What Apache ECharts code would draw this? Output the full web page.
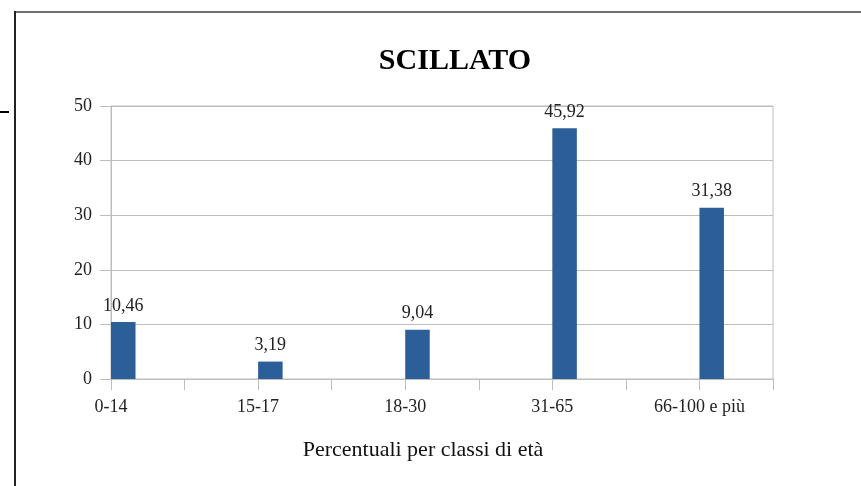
<!DOCTYPE html>
<html>
<head>
<meta charset="utf-8">
<script src="https://cdn.jsdelivr.net/npm/echarts@6/dist/echarts.min.js"></script>
<style>
html,body{margin:0;padding:0;background:#fff;}
#chart{width:861px;height:486px;}
</style>
</head>
<body>
<div id="chart"></div>
<script>
const titleText = 'SCILLATO';
const axisName = 'Percentuali per classi di età';
const categories = ['0-14', '15-17', '18-30', '31-65', '66-100 e più'];
const values = [10.46, 3.19, 9.04, 45.92, 31.38];
const yTicks = [0, 10, 20, 30, 40, 50];

// Excel-style layout: each category occupies a slot of 6 narrow bands, bar in the first band
const SLOT = 6;
const nBands = categories.length * SLOT - 3;
const xData = [];
const seriesData = [];
for (let i = 0; i < nBands; i++) {
  if (i % SLOT === 0) {
    xData.push(categories[i / SLOT]);
    seriesData.push(values[i / SLOT]);
  } else {
    xData.push('');
    seriesData.push('-');
  }
}

const FONT = 'Liberation Serif';
const chart = echarts.init(document.getElementById('chart'), null, {renderer: 'canvas'});
chart.setOption({
  animation: false,
  backgroundColor: '#ffffff',
  title: {
    text: titleText,
    left: 450,
    textAlign: 'center',
    top: 41,
    textStyle: {fontFamily: FONT, fontWeight: 'bold', fontSize: 30, color: '#000'}
  },
  grid: {
    left: 111, right: 88, top: 106, bottom: 107,
    show: true, borderColor: '#BDBDBD', borderWidth: 1, backgroundColor: 'transparent'
  },
  xAxis: {
    type: 'category',
    data: xData,
    boundaryGap: true,
    axisLine: {show: true, lineStyle: {color: '#BDBDBD', width: 1}},
    axisTick: {show: true, length: 11, interval: function (idx) { return idx % 3 === 0; }, lineStyle: {color: '#BDBDBD'}},
    axisLabel: {interval: 0, margin: 19, fontFamily: FONT, fontSize: 18, color: '#222', padding: [0, 24.5, 0, 0]},
    splitLine: {show: false}
  },
  yAxis: {
    type: 'value',
    min: yTicks[0],
    max: yTicks[yTicks.length - 1],
    interval: yTicks[1] - yTicks[0],
    axisLine: {show: true, lineStyle: {color: '#BDBDBD', width: 1}},
    axisTick: {show: true, length: 11, lineStyle: {color: '#BDBDBD'}},
    axisLabel: {margin: 19, fontFamily: FONT, fontSize: 18, color: '#222'},
    splitLine: {show: true, lineStyle: {color: '#BDBDBD', width: 1}}
  },
  series: [{
    type: 'bar',
    data: seriesData,
    barWidth: '100%',
    barCategoryGap: '0%',
    itemStyle: {color: '#2C5F98'},
    label: {
      show: true,
      position: 'top',
      distance: 7,
      fontFamily: FONT,
      fontSize: 18,
      color: '#222',
      formatter: function (p) { return Number(p.value).toFixed(2).replace('.', ','); }
    }
  }],
  graphic: [
    {type: 'line', shape: {x1: 15, y1: 12, x2: 861, y2: 12}, style: {stroke: '#6E6E6E', lineWidth: 2}},
    {type: 'line', shape: {x1: 15, y1: 11, x2: 15, y2: 486}, style: {stroke: '#222', lineWidth: 2}},
    {type: 'line', shape: {x1: 0, y1: 112, x2: 9, y2: 112}, style: {stroke: '#000', lineWidth: 2}},
    {type: 'text', x: 423, y: 450, style: {text: axisName, fontFamily: FONT, fontSize: 22, fill: '#111', textAlign: 'center', textVerticalAlign: 'middle'}}
  ]
});
</script>
</body>
</html>
